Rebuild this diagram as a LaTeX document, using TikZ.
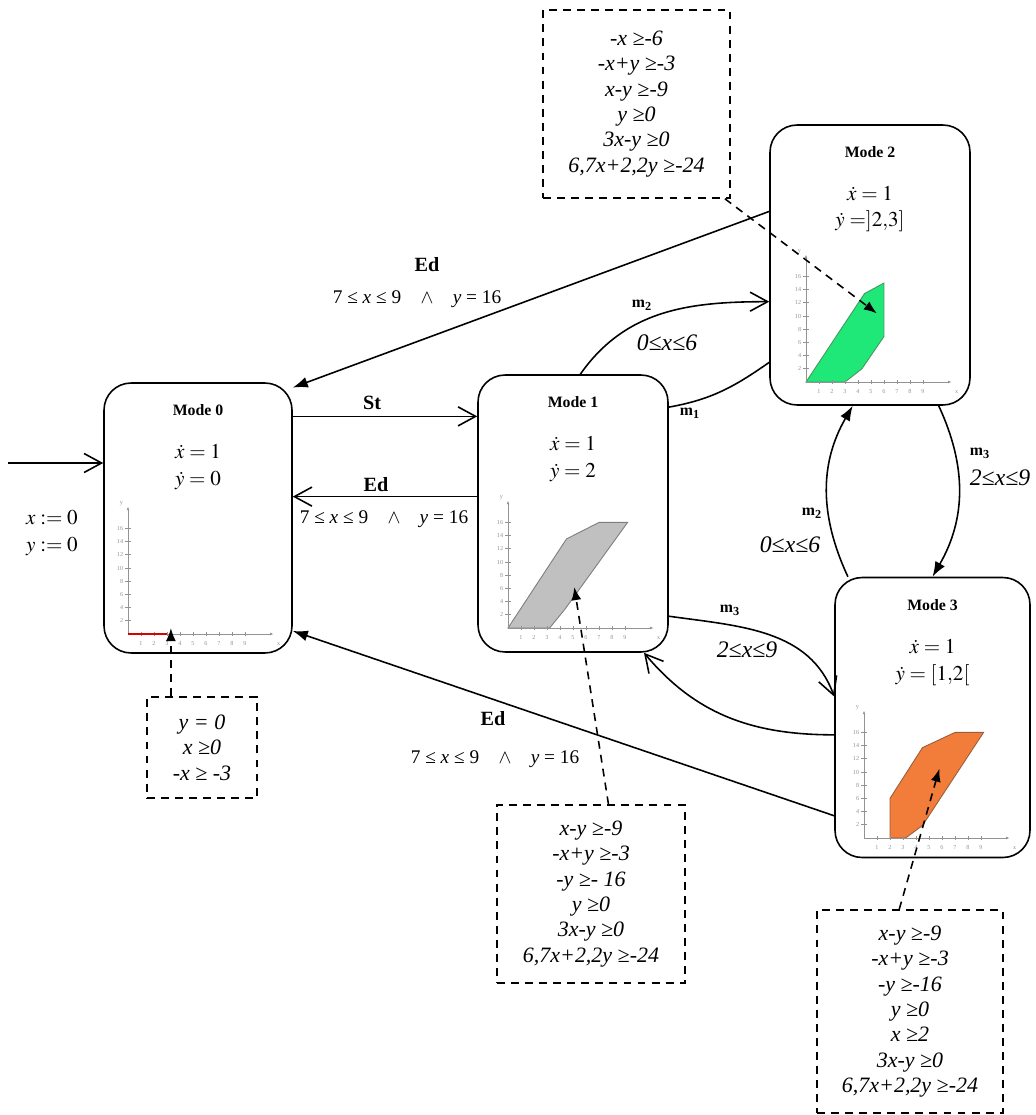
\documentclass[tikz,border=0pt]{standalone}
\usepackage{mathptmx}
\usepackage{fontspec}
\setmainfont{Liberation Serif}
\usepackage{xcolor}
\usepackage{tikz}
\usetikzlibrary{arrows.meta, positioning, calc}
\definecolor{zonegreen}{RGB}{32,232,120}
\definecolor{zonegreenline}{RGB}{70,150,95}
\definecolor{zonegray}{RGB}{192,192,192}
\definecolor{zonegrayline}{RGB}{125,125,125}
\definecolor{zoneorange}{RGB}{242,124,58}
\definecolor{zoneorangeline}{RGB}{150,95,60}
\newcommand{\plotaxes}{%
  \draw[axisline, -{Latex[length=2pt, width=1.6pt]}] (0,0) -- (11.2,0);
  \draw[axisline, -{Latex[length=2pt, width=1.6pt]}] (0,0) -- (0,19.3);
  \foreach \i in {1,...,9} {
    \draw[axisline] (\i,0.3) -- (\i,-0.3);
    \node[ticklbl] at (\i,-1.5) {\i};
  }
  \foreach \j in {2,4,...,16} {
    \draw[axisline] (-0.2,\j) -- (0.2,\j);
    \node[ticklbl, anchor=east] at (-0.35,\j) {\j};
  }
  \node[ticklbl] at (-0.5,19.7) {y};
  \node[ticklbl] at (11.6,-1.5) {x};
}
\newcommand{\edguard}{7 ≤ \textit{x} ≤ 9\quad$\wedge$\quad\textit{y} = 16}

\begin{document}
\begin{tikzpicture}[x=0.02cm, y=-0.02cm,
  mode/.style={draw, rectangle, rounded corners=5.4mm, line width=0.9pt, inner sep=0pt},
  modetitle/.style={font=\fontsize{9}{11}\selectfont\bfseries, inner sep=0pt},
  dyn/.style={font=\fontsize{12}{15}\selectfont, align=center, inner sep=0pt},
  cbox/.style={draw, dash pattern=on 4.5pt off 3.5pt, line width=0.9pt, align=center, inner sep=0pt, font=\fontsize{12.5}{14.4}\selectfont\itshape},
  evt/.style={font=\fontsize{11.5}{13}\selectfont\bfseries, inner sep=0pt},
  cond/.style={font=\fontsize{11}{13}\selectfont, inner sep=0pt},
  mlbl/.style={font=\fontsize{9}{11}\selectfont\bfseries, inner sep=0pt},
  guard/.style={font=\fontsize{13.5}{15}\selectfont\itshape, inner sep=0pt},
  conn/.style={line width=0.9pt},
  barb/.style={-{Straight Barb[length=3.5mm, width=3.8mm]}},
  tri/.style={-{Latex[length=3mm, width=2.2mm]}},
  dasharrow/.style={dash pattern=on 4.5pt off 3.5pt, line width=0.9pt, -{Latex[length=2.6mm, width=2mm]}},
  axisline/.style={gray!85, line width=0.45pt},
  ticklbl/.style={font=\fontsize{3.5}{3.5}\selectfont, text=gray!85, inner sep=0pt}
]
  \useasboundingbox (0,0) rectangle (1035,1115);

  % Modes
  \node[mode, minimum width=3.76cm, minimum height=5.4cm] (mode0) at (198,518) {};
  \node[mode, minimum width=3.8cm, minimum height=5.54cm] (mode1) at (573,513.5) {};
  \node[mode, minimum width=4cm, minimum height=5.6cm] (mode2) at (870,265) {};
  \node[mode, minimum width=3.9cm, minimum height=5.6cm] (mode3) at (932.5,717.5) {};

  \node[modetitle] (t0) at ($(mode0.north)+(0,28)$) {Mode 0};
  \node[modetitle] (t1) at ($(mode1.north)+(0,28)$) {Mode 1};
  \node[modetitle] (t2) at ($(mode2.north)+(0,28)$) {Mode 2};
  \node[modetitle] (t3) at ($(mode3.north)+(0,28.5)$) {Mode 3};

  \node[dyn] (d0) at ($(mode0.north)+(0,85)$) {$\dot{x}=1$\\$\dot{y}=0$};
  \node[dyn] (d1) at ($(mode1.north)+(0,85)$) {$\dot{x}=1$\\$\dot{y}=2$};
  \node[dyn] (d2) at ($(mode2.north)+(0,85)$) {$\dot{x}=1$\\$\dot{y}=]2{,}3]$};
  \node[dyn] (d3) at ($(mode3.north)+(0,86)$) {$\dot{x}=1$\\$\dot{y}=[1{,}2[$};

  % Plots
  \begin{scope}[shift={(128,634)}, x=0.26cm, y=0.132cm]
    \plotaxes
    \draw[red!85!black, line width=0.8pt] (0,0) -- (3,0);
    \coordinate (p0) at (3.3,0.9);
  \end{scope}
  \begin{scope}[shift={(508,628)}, x=0.26cm, y=0.132cm]
    \filldraw[fill=zonegray, draw=zonegrayline, line width=0.5pt] (0,0) -- (4.5,13.5) -- (7,16) -- (9.2,16) -- (4.4,2.9) -- (3.2,0) -- cycle;
    \plotaxes
    \coordinate (p1) at (5.1,6.2);
  \end{scope}
  \begin{scope}[shift={(806,382)}, x=0.26cm, y=0.132cm]
    \filldraw[fill=zonegreen, draw=zonegreenline, line width=0.5pt] (0,0) -- (4.5,13.4) -- (6,15) -- (6,6.9) -- (4.3,2) -- (3,0) -- cycle;
    \plotaxes
    \coordinate (p2) at (5.45,10.4);
  \end{scope}
  \begin{scope}[shift={(864,838)}, x=0.26cm, y=0.132cm]
    \filldraw[fill=zoneorange, draw=zoneorangeline, line width=0.5pt] (2,0) -- (2,6) -- (4.5,13.7) -- (7,16) -- (9.2,16) -- (4.5,1.9) -- (3.2,0) -- cycle;
    \plotaxes
    \coordinate (p3) at (5.8,10.5);
  \end{scope}

  % Invariants
  \node[cbox, minimum width=3.74cm, minimum height=3.76cm] (ctop) at (636.5,104)
    {-x ≥-6\\-x+y ≥-3\\x-y ≥-9\\y ≥0\\3x-y ≥0\\6,7x+2,2y ≥-24};
  \node[cbox, minimum width=2.2cm, minimum height=2.02cm] (c0) at (202,747.5)
    {y = 0\\x ≥0\\-x ≥ -3};
  \node[cbox, minimum width=3.76cm, minimum height=3.56cm] (c1) at (591,894)
    {x-y ≥-9\\-x+y ≥-3\\-y ≥- 16\\y ≥0\\3x-y ≥0\\6,7x+2,2y ≥-24};
  \node[cbox, minimum width=3.72cm, minimum height=4.06cm] (c3) at (910,1011.5)
    {x-y ≥-9\\-x+y ≥-3\\-y ≥-16\\y ≥0\\x ≥2\\3x-y ≥0\\6,7x+2,2y ≥-24};

  \draw[dasharrow] (c0.north -| p0) -- (p0);
  \draw[dasharrow] (ctop.313) -- (p2);
  \draw[dasharrow] (c1.79) -- (p1);
  \draw[dasharrow] (c3.96) -- (p3);

  % Initial
  \coordinate (init) at (8,463);
  \node[dyn] (initv) at (52,533) {$x:=0$\\$y:=0$};
  \draw[conn, barb] (init) -- (init -| mode0.west);

  % Labels
  \node[evt] (ed2) at (427,265) {Ed};
  \node[cond] (ed2c) at (417,299) {\edguard};
  \node[evt] (st) at (372,403) {St};
  \node[evt] (ed1) at (376,485) {Ed};
  \node[cond] (ed1c) at (384,519) {\edguard};
  \node[evt] (ed3) at (493,719) {Ed};
  \node[cond] (ed3c) at (495,759) {\edguard};

  \node[mlbl] (lm12) at (642,305) {m\textsubscript{2}};
  \node[guard] (g12) at (667,343) {0≤x≤6};
  \node[mlbl] (lm21) at (690,413) {m\textsubscript{1}};
  \node[mlbl] (lm23) at (980,453) {m\textsubscript{3}};
  \node[guard] (g23) at (1000,478) {2≤x≤9};
  \node[mlbl] (lm32) at (812,513) {m\textsubscript{2}};
  \node[guard] (g32) at (790,545) {0≤x≤6};
  \node[mlbl] (lm13) at (730,610) {m\textsubscript{3}};
  \node[guard] (g13) at (747,650) {2≤x≤9};

  % Transitions
  \draw[conn, barb] (mode0.47) -- (mode0.47 -| mode1.west);
  \draw[conn, barb] (mode1.170) -- (mode1.170 -| mode0.east);
  \draw[conn, tri] (mode2.152) -- (mode0.54);
  \draw[conn, tri] (mode3.225) -- (mode0.310);
  \draw[conn, barb] (mode1.87) to[out=55, in=180] (mode2.200);
  \draw[conn] (mode1.48.5) to[out=10, in=215] (mode2.224);
  \draw[conn, tri] (mode2.296) to[out=-65, in=60] (mode3.90);
  \draw[conn, tri] (mode3.121) to[out=115, in=240] (mode2.263);
  \draw[conn, barb] (mode1.313) to[out=-8, in=110] (mode3.168);
  \draw[conn, barb] (mode3.190) to[out=180, in=-50] (mode1.297);
\end{tikzpicture}
\end{document}
